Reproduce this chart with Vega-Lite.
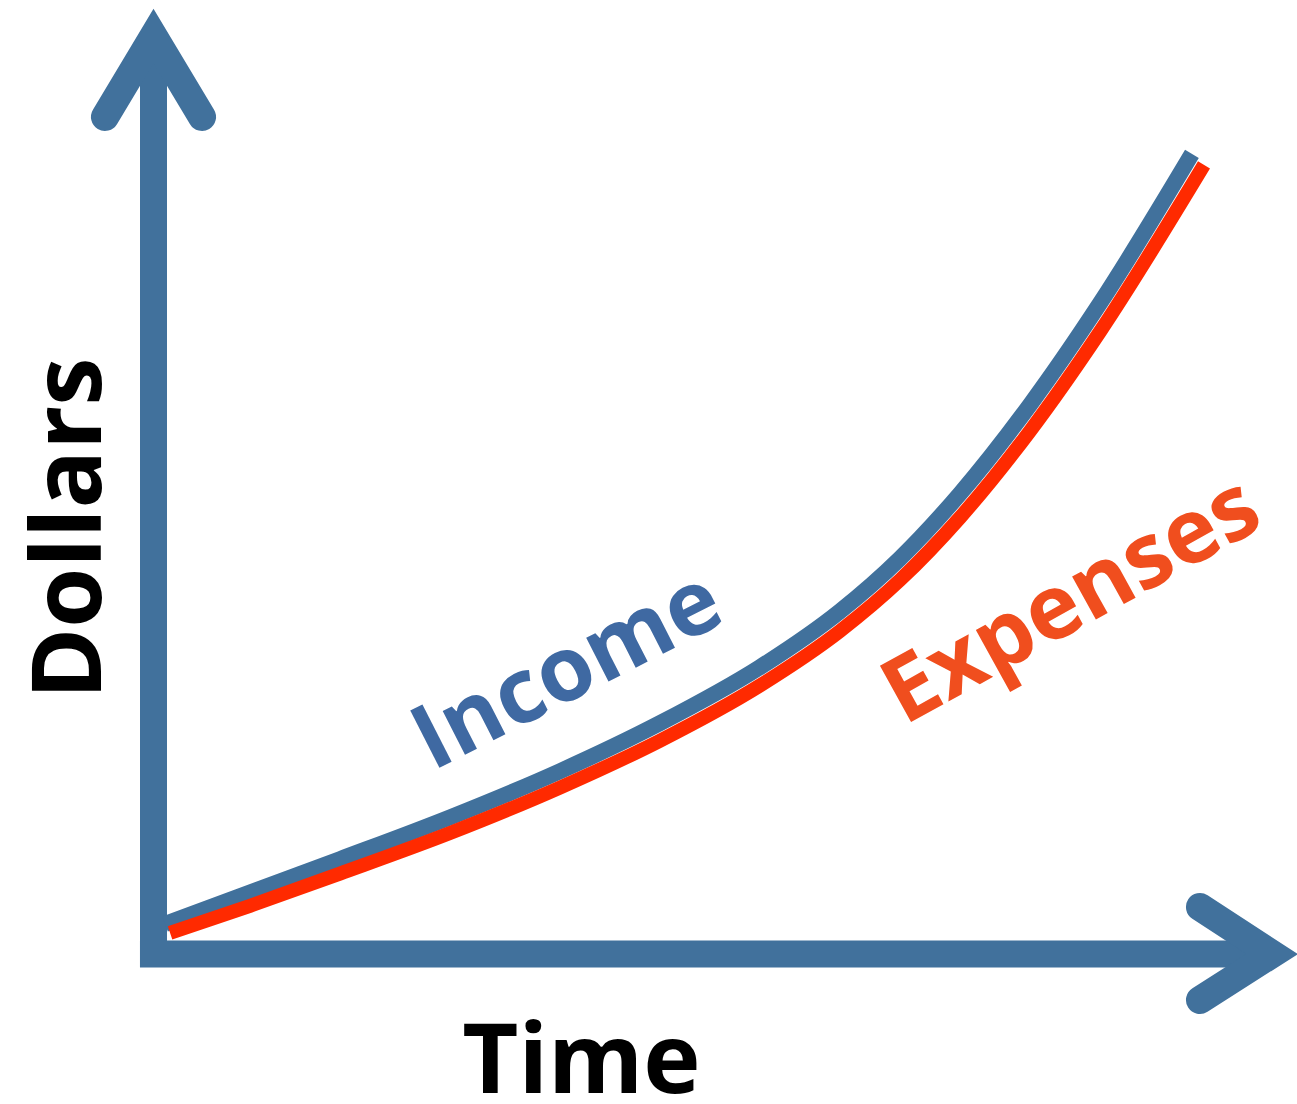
{
  "$schema": "https://vega.github.io/schema/vega-lite/v6.json",
  "autosize": "none",
  "width": 1118.5,
  "height": 918,
  "padding": {"left": 153.5, "top": 36, "right": 25, "bottom": 150},
  "background": "white",
  "config": {"view": {"stroke": null}},
  "datasets": {
    "axes": [
      {"part": "xstem", "x": -1.21, "y": 0, "o": 1},
      {"part": "xstem", "x": 100, "y": 0, "o": 2},
      {"part": "ystem", "x": 0, "y": -1.42, "o": 1},
      {"part": "ystem", "x": 0, "y": 100, "o": 2}
    ],
    "heads": [
      {"part": "yhead", "x": -4.34, "y": 91.18, "o": 1},
      {"part": "yhead", "x": 0, "y": 100, "o": 2},
      {"part": "yhead", "x": 4.34, "y": 91.18, "o": 3},
      {"part": "xhead", "x": 93.56, "y": 5.12, "o": 1},
      {"part": "xhead", "x": 100, "y": 0, "o": 2},
      {"part": "xhead", "x": 93.56, "y": -5.01, "o": 3}
    ],
    "curves": [
      {"series": "Income", "x": 1.03, "y": 3.27},
      {"series": "Income", "x": 8.63, "y": 6.7},
      {"series": "Income", "x": 16.67, "y": 10.33},
      {"series": "Income", "x": 26.51, "y": 14.88},
      {"series": "Income", "x": 36.34, "y": 19.91},
      {"series": "Income", "x": 45.28, "y": 25.14},
      {"series": "Income", "x": 54.22, "y": 31.24},
      {"series": "Income", "x": 61.38, "y": 37.34},
      {"series": "Income", "x": 66.74, "y": 43.09},
      {"series": "Income", "x": 72.11, "y": 50.15},
      {"series": "Income", "x": 78.37, "y": 59.84},
      {"series": "Income", "x": 84.63, "y": 70.89},
      {"series": "Income", "x": 92.84, "y": 87.15},
      {"series": "Expenses", "x": 1.48, "y": 2.29},
      {"series": "Expenses", "x": 8.63, "y": 5.25},
      {"series": "Expenses", "x": 16.67, "y": 8.76},
      {"series": "Expenses", "x": 26.51, "y": 13.18},
      {"series": "Expenses", "x": 36.34, "y": 18.13},
      {"series": "Expenses", "x": 45.28, "y": 23.24},
      {"series": "Expenses", "x": 54.22, "y": 29.25},
      {"series": "Expenses", "x": 61.38, "y": 35.19},
      {"series": "Expenses", "x": 66.74, "y": 40.74},
      {"series": "Expenses", "x": 72.11, "y": 47.55},
      {"series": "Expenses", "x": 78.37, "y": 56.98},
      {"series": "Expenses", "x": 84.63, "y": 67.81},
      {"series": "Expenses", "x": 93.92, "y": 85.95}
    ],
    "labels": [
      {"label": "Income", "x": 37.06, "y": 30.72},
      {"label": "Expenses", "x": 82.12, "y": 38.34}
    ]
  },
  "encoding": {
    "x": {
      "field": "x", "type": "quantitative",
      "scale": {"domain": [0, 100], "nice": false, "zero": false},
      "axis": {
        "title": "Time", "domain": false, "ticks": false, "labels": false, "grid": false,
        "titleFont": "Open Sans", "titleFontWeight": "bold", "titleFontSize": 97, "titleColor": "black",
        "titleX": 427.5, "titleY": 138, "titleBaseline": "alphabetic", "titleAlign": "center", "titleAnchor": null
      }
    },
    "y": {
      "field": "y", "type": "quantitative",
      "scale": {"domain": [0, 100], "nice": false, "zero": false},
      "axis": {
        "title": "Dollars", "domain": false, "ticks": false, "labels": false, "grid": false,
        "titleFont": "Open Sans", "titleFontWeight": "bold", "titleFontSize": 97, "titleColor": "black",
        "titleAngle": 270, "titleX": -53.5, "titleY": 492, "titleBaseline": "alphabetic", "titleAlign": "center", "titleAnchor": null
      }
    }
  },
  "layer": [
    {
      "data": {"name": "axes"},
      "mark": {"type": "line", "color": "#41719C", "strokeWidth": 27, "strokeCap": "butt"},
      "encoding": {"detail": {"field": "part"}, "order": {"field": "o", "type": "quantitative"}}
    },
    {
      "data": {"name": "heads"},
      "mark": {"type": "line", "color": "#41719C", "strokeWidth": 28, "strokeCap": "round", "strokeJoin": "miter"},
      "encoding": {"detail": {"field": "part"}, "order": {"field": "o", "type": "quantitative"}}
    },
    {
      "data": {"name": "curves"},
      "transform": [{"filter": "datum.series === 'Income'"}],
      "mark": {"type": "line", "color": "#41719C", "strokeWidth": 16, "interpolate": "monotone", "strokeCap": "butt"},
      "encoding": {}
    },
    {
      "data": {"name": "curves"},
      "transform": [{"filter": "datum.series === 'Expenses'"}],
      "mark": {"type": "line", "color": "#FF2A00", "strokeWidth": 14, "interpolate": "monotone", "strokeCap": "butt"},
      "encoding": {}
    },
    {
      "data": {"name": "labels"},
      "transform": [{"filter": "datum.label === 'Income'"}],
      "mark": {"type": "text", "font": "Open Sans", "fontWeight": "bold", "fontSize": 90, "color": "#3F69A2", "angle": 333, "align": "center", "baseline": "middle"},
      "encoding": {"text": {"field": "label"}}
    },
    {
      "data": {"name": "labels"},
      "transform": [{"filter": "datum.label === 'Expenses'"}],
      "mark": {"type": "text", "font": "Open Sans", "fontWeight": "bold", "fontSize": 90, "color": "#F04E1E", "angle": 331, "align": "center", "baseline": "middle"},
      "encoding": {"text": {"field": "label"}}
    }
  ]
}
